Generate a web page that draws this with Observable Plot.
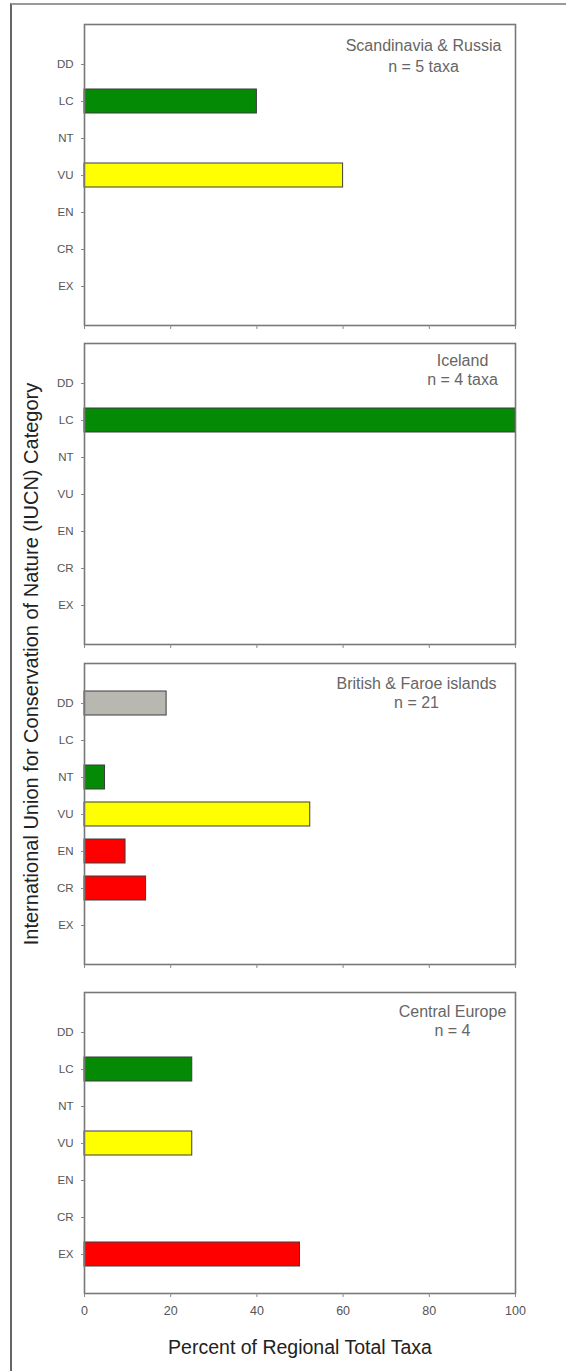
<!DOCTYPE html>
<html>
<head>
<meta charset="utf-8">
<script src="https://cdn.jsdelivr.net/npm/d3@7"></script>
<script src="https://cdn.jsdelivr.net/npm/@observablehq/plot@0.6"></script>
<style>
  html, body { margin: 0; padding: 0; background: #fff; }
  #chart { position: relative; width: 566px; height: 1371px; background: #fff; overflow: hidden;
           font-family: "Liberation Sans", Arial, sans-serif; }
  #outer { position: absolute; left: 10px; top: 3px; width: 600px; height: 1400px;
           border-left: 2px solid #666; border-top: 2px solid #999; }
  .panel { position: absolute; left: 0; }
  #ylabel { position: absolute; left: 31px; top: 664px; transform: translate(-50%, -50%) rotate(-90deg);
            white-space: nowrap; font-size: 20px; color: #222; }
  #xlabel { position: absolute; left: 300px; top: 1347px; transform: translate(-50%, -50%);
            white-space: nowrap; font-size: 19.5px; color: #222; }
</style>
</head>
<body>
<div id="chart">
  <div id="outer"></div>
  <div id="ylabel">International Union for Conservation of Nature (IUCN) Category</div>
  <div id="xlabel">Percent of Regional Total Taxa</div>
</div>
<script>
// ---- data ----
const categories = ["DD", "LC", "NT", "VU", "EN", "CR", "EX"];
const regions = ["Scandinavia & Russia", "Iceland", "British & Faroe islands", "Central Europe"];
const sampleSizes = ["n = 5 taxa", "n = 4 taxa", "n = 21", "n = 4"];
const scandinaviaRussia = [0, 40, 0, 60, 0, 0, 0];
const iceland = [0, 100, 0, 0, 0, 0, 0];
const britishFaroe = [19.05, 0, 4.76, 52.38, 9.52, 14.29, 0];
const centralEurope = [0, 25, 0, 25, 0, 0, 50];
const xTicks = [0, 20, 40, 60, 80, 100];
const categoryColors = ["#b8b8b0", "#048a04", "#048a04", "#ffff00", "#ff0000", "#ff0000", "#ff0000"];

const series = [scandinaviaRussia, iceland, britishFaroe, centralEurope];

// ---- layout ----
const panelTops = [24, 343, 663, 992];
const panelH = 301;
const mt = 20;
const annotDx = [-92, -53, -99, -63];
const annotDy1 = [21, 17, 20, 19];
const annotDy2 = [42, 36, 39, 38];
const font = '"Liberation Sans", Arial, sans-serif';

const chart = document.getElementById("chart");

series.forEach((vals, i) => {
  const isLast = i === series.length - 1;
  const mb = isLast ? 30 : 10;
  const data = categories
    .map((c, j) => ({cat: c, value: vals[j], color: categoryColors[j]}))
    .filter(d => d.value > 0);
  const plot = Plot.plot({
    width: 566,
    height: mt + panelH + mb,
    marginLeft: 84,
    marginRight: 51,
    marginTop: mt,
    marginBottom: mb,
    style: {fontFamily: font, background: "transparent", color: "#555", overflow: "visible"},
    x: {domain: [0, 100]},
    y: {domain: categories, type: "band", paddingInner: 0.36, paddingOuter: 0.68},
    color: {type: "identity"},
    marks: [
      Plot.barX(data, {x: "value", y: "cat", fill: "color", stroke: "#3c3c3c", strokeWidth: 1}),
      Plot.frame({stroke: "#787878", strokeWidth: 1.6}),
      Plot.axisY({tickSize: 3, tickPadding: 8, fontSize: 11.5, label: null, stroke: "#888", fill: "#555"}),
      Plot.axisX({ticks: xTicks, tickSize: 4, tickPadding: 9, label: null, fontSize: 12.5,
                  stroke: "#888", fill: "#555",
                  tickFormat: isLast ? (d => String(d)) : (() => "")}),
      Plot.text([regions[i]], {frameAnchor: "top-right", dx: annotDx[i], dy: annotDy1[i],
                               textAnchor: "middle", lineAnchor: "middle", fontSize: 16, fill: "#666"}),
      Plot.text([sampleSizes[i]], {frameAnchor: "top-right", dx: annotDx[i], dy: annotDy2[i],
                                   textAnchor: "middle", lineAnchor: "middle", fontSize: 16, fill: "#666"})
    ]
  });
  plot.classList.add("panel");
  plot.style.top = (panelTops[i] - mt) + "px";
  plot.style.position = "absolute";
  plot.style.left = "0px";
  chart.appendChild(plot);
});
</script>
</body>
</html>
